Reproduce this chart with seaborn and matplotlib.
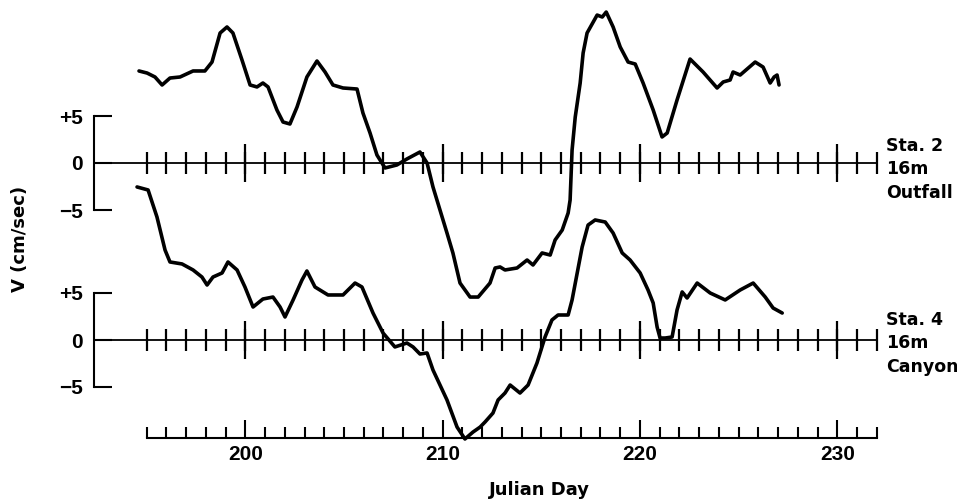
import matplotlib
matplotlib.use("Agg")
import matplotlib.pyplot as plt
import seaborn as sns

# ---------------- data ----------------
sta2_day = [194.61, 195.02, 195.42, 195.78, 196.18, 196.69, 197.35, 197.95, 198.31, 198.72,
            199.07, 199.37, 199.83, 200.24, 200.59, 200.89, 201.15, 201.60, 201.91, 202.26,
            202.62, 203.12, 203.63, 204.04, 204.44, 204.95, 205.66, 205.96, 206.32, 206.67,
            207.08, 207.68, 208.19, 208.85, 209.21, 209.51, 210.22, 210.52, 210.88, 211.39,
            211.80, 212.40, 212.66, 212.91, 213.16, 213.77, 214.28, 214.58, 215.04, 215.45,
            215.70, 216.06, 216.36, 216.46, 216.56, 216.72, 216.97, 217.12, 217.32, 217.83,
            218.09, 218.29, 218.64, 219.00, 219.40, 219.76, 220.16, 220.67, 221.12, 221.38,
            221.88, 222.54, 223.20, 223.91, 224.22, 224.57, 224.72, 225.08, 225.84, 226.24,
            226.60, 226.80, 226.95, 227.05]
sta2_v = [9.79, 9.57, 9.15, 8.30, 9.04, 9.15, 9.79, 9.79, 10.74, 13.83,
          14.47, 13.83, 10.96, 8.30, 8.09, 8.51, 8.09, 5.64, 4.36, 4.15,
          5.96, 9.15, 10.85, 9.68, 8.30, 7.98, 7.87, 5.32, 3.19, 0.85,
          -0.53, -0.21, 0.43, 1.17, 0.00, -2.55, -7.45, -9.57, -12.77, -14.26,
          -14.26, -12.77, -11.17, -11.06, -11.38, -11.17, -10.32, -10.85, -9.57, -9.79,
          -8.19, -7.13, -5.32, -3.94, 1.38, 4.89, 8.51, 11.70, 13.83, 15.74,
          15.53, 16.06, 14.47, 12.34, 10.74, 10.53, 8.51, 5.64, 2.77, 3.19,
          6.70, 11.06, 9.68, 7.98, 8.62, 8.83, 9.68, 9.36, 10.74, 10.21,
          8.51, 9.15, 9.36, 8.30]

sta4_day = [194.51, 195.07, 195.52, 195.93, 196.18, 196.79, 197.35, 197.80, 198.06, 198.36,
            198.82, 199.12, 199.58, 199.98, 200.39, 200.89, 201.40, 201.76, 202.01, 202.42,
            202.87, 203.12, 203.53, 204.19, 204.95, 205.56, 205.91, 206.47, 206.98, 207.58,
            208.19, 208.50, 208.85, 209.21, 209.51, 210.22, 210.73, 211.13, 211.54, 211.90,
            212.15, 212.55, 212.81, 213.16, 213.42, 213.92, 214.33, 214.78, 215.19, 215.54,
            215.85, 216.36, 216.56, 216.82, 217.07, 217.37, 217.73, 218.24, 218.64, 219.10,
            219.50, 220.01, 220.41, 220.67, 220.87, 221.02, 221.28, 221.63, 221.88, 222.14,
            222.39, 222.90, 223.56, 224.32, 225.08, 225.74, 226.35, 226.75, 227.21]
sta4_v = [16.28, 15.96, 13.09, 9.57, 8.30, 8.09, 7.45, 6.70, 5.85, 6.70,
          7.13, 8.30, 7.45, 5.64, 3.51, 4.36, 4.57, 3.51, 2.45, 4.26,
          6.38, 7.34, 5.64, 4.79, 4.79, 6.06, 5.64, 2.87, 0.74, -0.74,
          -0.32, -0.74, -1.49, -1.38, -3.19, -6.38, -9.26, -10.53, -9.79, -9.26,
          -8.72, -7.77, -6.38, -5.64, -4.79, -5.64, -4.79, -2.45, 0.32, 2.13,
          2.66, 2.66, 4.26, 7.13, 9.89, 12.23, 12.77, 12.55, 11.38, 9.26,
          8.51, 7.13, 5.32, 3.94, 1.38, 0.21, 0.21, 0.32, 3.19, 5.11,
          4.47, 6.06, 5.00, 4.26, 5.32, 6.06, 4.57, 3.40, 2.87]

day_ticks_minor = list(range(195, 233))
day_ticks_major = [200, 210, 220, 230]
day_tick_labels = ["200", "210", "220", "230"]
v_ticks = [-5, 0, 5]
v_tick_labels = ["\u22125", "0", "+5"]
station_labels = [["Sta. 2", "16m", "Outfall"], ["Sta. 4", "16m", "Canyon"]]
x_label = "Julian Day"
y_label = "V (cm/sec)"

# ---------------- layout ----------------
sns.set_style("white")
plt.rcParams["font.family"] = ["DejaVu Sans"]

W, H = 957, 500
fig = plt.figure(figsize=(W / 100, H / 100), dpi=100)

px_per_day = 19.73
x_min = 195 - 146.7 / px_per_day
x_lim = (x_min, x_min + W / px_per_day)
px_per_unit = 9.4
bracket_day = x_min + 94 / px_per_day
axis_end = 232


def ylim_for(zero_px):
    return (-(H - zero_px) / px_per_unit, zero_px / px_per_unit)


tick_font = dict(family=["Liberation Sans", "DejaVu Sans"], weight="bold", size=15)

ax_bot = fig.add_axes([0, 0, 1, 1])
ax_top = fig.add_axes([0, 0, 1, 1])

panels = [(ax_top, 163, sta2_day, sta2_v), (ax_bot, 340, sta4_day, sta4_v)]
for ax, zero_px, days, vals in panels:
    ax.patch.set_alpha(0)
    sns.lineplot(x=days, y=vals, ax=ax, color="black", linewidth=2.6,
                 sort=False, estimator=None, solid_capstyle="round",
                 solid_joinstyle="round", zorder=3)
    ax.set_xlim(x_lim)
    ax.set_ylim(ylim_for(zero_px))
    ax.set_xlabel("")
    ax.set_ylabel("")
    # zero line with crossing day ticks
    ax.hlines(0, bracket_day, axis_end, color="black", linewidth=1.3, zorder=2)
    ax.vlines(day_ticks_minor, -1.2, 1.2, color="black", linewidth=1.6, zorder=2)
    ax.vlines(day_ticks_major, -2.0, 2.0, color="black", linewidth=1.6, zorder=2)
    # +5 / 0 / -5 bracket
    for s in ["top", "right"]:
        ax.spines[s].set_visible(False)
    ax.spines["left"].set_position(("data", bracket_day))
    ax.spines["left"].set_bounds(-5, 5)
    ax.spines["left"].set_linewidth(1.5)
    ax.spines["left"].set_color("black")
    ax.set_yticks(v_ticks)
    ax.set_yticklabels(v_tick_labels, fontdict=tick_font)
    ax.tick_params(axis="y", left=True, direction="in", length=13, width=1.5,
                   pad=8, colors="black")

# top panel: no x axis
ax_top.spines["bottom"].set_visible(False)
ax_top.set_xticks([])

# bottom panel: day axis below
ax_bot.spines["bottom"].set_position(("data", (340 - 438.3) / px_per_unit))
ax_bot.spines["bottom"].set_bounds(195, axis_end)
ax_bot.spines["bottom"].set_linewidth(1.5)
ax_bot.spines["bottom"].set_color("black")
ax_bot.set_xticks(day_ticks_major)
ax_bot.set_xticklabels(day_tick_labels, fontdict=tick_font)
ax_bot.set_xticks(day_ticks_minor, minor=True)
ax_bot.tick_params(axis="x", which="major", bottom=True, direction="in",
                   length=13, width=1.5, pad=5, colors="black")
ax_bot.tick_params(axis="x", which="minor", bottom=True, direction="in",
                   length=8, width=1.5, colors="black")

# texts
lab_font = dict(weight="bold", size=12.5, color="black")
for lines, baselines in zip(station_labels, [[151, 174, 198], [325, 348, 372]]):
    for t, yb in zip(lines, baselines):
        fig.text(886 / W, 1 - yb / H, t, ha="left", va="baseline", **lab_font)

fig.text(539.5 / W, 1 - 490 / H, x_label, ha="center", va="center",
         weight="bold", size=13, color="black")
fig.text(20 / W, 1 - 239 / H, y_label, ha="center", va="center", rotation=90,
         weight="bold", size=13, color="black")

fig.savefig("out.png", dpi=100, facecolor="white")
